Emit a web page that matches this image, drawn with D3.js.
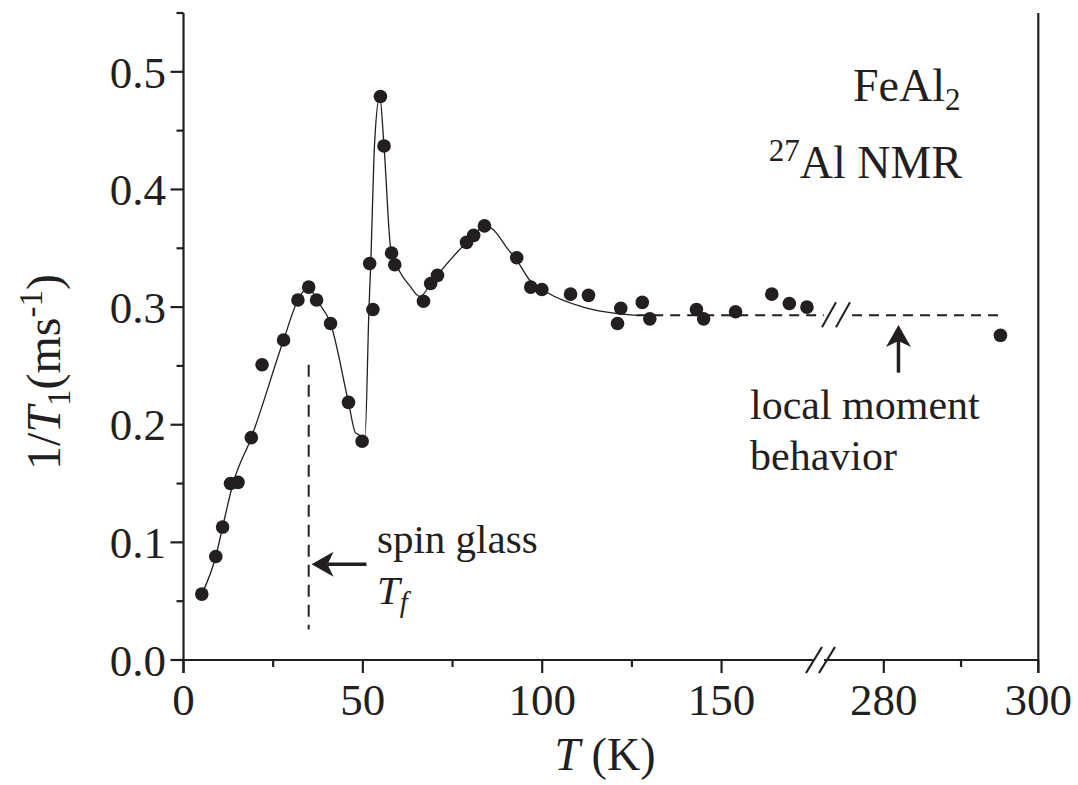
<!DOCTYPE html>
<html>
<head>
<meta charset="utf-8">
<script src="https://cdn.jsdelivr.net/npm/d3@7"></script>
<style>
  html, body { margin: 0; padding: 0; background: #fff; }
  svg { display: block; }
  text { font-family: "Liberation Serif", "Times New Roman", serif; fill: #231f20; }
</style>
</head>
<body>
<svg id="chart" width="1078" height="785"></svg>
<script>
// 27Al NMR spin-lattice relaxation rate of FeAl2
const temperature = [5.1, 9.0, 10.9, 13.1, 15.2, 18.9, 21.9, 27.9, 31.9, 34.9, 37.1, 41.0, 46.0, 49.8,
  51.9, 52.8, 54.9, 55.9, 58.0, 58.9, 66.9, 68.9, 70.8, 78.9, 80.9, 83.9, 92.9, 96.8, 99.9,
  107.9, 112.9, 121.0, 121.9, 127.9, 130.0, 143.0, 145.0, 153.9, 164.0, 168.9, 173.8, 295.1];
const rate = [0.056, 0.088, 0.113, 0.150, 0.151, 0.189, 0.251, 0.272, 0.306, 0.317, 0.306, 0.286, 0.219, 0.186,
  0.337, 0.298, 0.479, 0.437, 0.346, 0.336, 0.305, 0.320, 0.327, 0.355, 0.361, 0.369, 0.342, 0.317, 0.315,
  0.311, 0.310, 0.286, 0.299, 0.304, 0.290, 0.298, 0.290, 0.296, 0.311, 0.303, 0.300, 0.276];

// guide-to-the-eye curve
const guideT = [5.1, 9.0, 10.9, 13.8, 18.9, 27.9, 31.9, 34.9, 37.1, 41.0, 46.0, 48.0, 50.6, 51.7, 52.2,
  53.3, 54.7, 55.9, 57.8, 60.3, 63.1, 65.9, 68.6, 70.8, 76.1, 78.9, 80.9, 83.9, 86.3, 90.0, 92.9,
  96.5, 101.6, 111.4, 126.2];
const guideRate = [0.056, 0.088, 0.113, 0.150, 0.189, 0.272, 0.306, 0.317, 0.306, 0.286, 0.219, 0.193, 0.190, 0.298, 0.337,
  0.441, 0.479, 0.437, 0.349, 0.330, 0.318, 0.309, 0.318, 0.327, 0.346, 0.355, 0.361, 0.369, 0.366, 0.351, 0.340,
  0.323, 0.312, 0.300, 0.293];

// local-moment plateau and spin-glass freezing temperature
const plateauRate = 0.293;
const plateauStart = 126.2, plateauEnd = 295.4;
const freezeT = 34.9;
const freezeSpan = [0.026, 0.251];

// axis ticks (broken temperature axis)
const xMajor = [0, 50, 100, 150, 280, 300];
const xMinor = [25, 75, 125, 290];
const yMajor = [0.0, 0.1, 0.2, 0.3, 0.4, 0.5];
const yMinor = [0.05, 0.15, 0.25, 0.35, 0.45, 0.55];

const ink = "#231f20";
const svg = d3.select("#chart");

// piecewise scale: 0–178 K, then 272–300 K
const x = d3.scaleLinear().domain([0, 178, 272, 300]).range([183.5, 822, 822, 1038.3]);
const y = d3.scaleLinear().domain([0, 0.55]).range([660, 13]);

const axisW = 2.2;
const yBottom = y(0), xLeft = x(0), xRight = x(300);

// frame: left, right, bottom
svg.append("line").attr("x1", xLeft).attr("x2", xLeft).attr("y1", y(0.55)).attr("y2", yBottom + 13)
  .attr("stroke", ink).attr("stroke-width", axisW);
svg.append("line").attr("x1", xRight).attr("x2", xRight).attr("y1", y(0.55)).attr("y2", yBottom + 13)
  .attr("stroke", ink).attr("stroke-width", axisW);
// bottom axis in two pieces around the break
const brk = 822;
svg.append("line").attr("x1", xLeft).attr("x2", brk - 9).attr("y1", yBottom).attr("y2", yBottom)
  .attr("stroke", ink).attr("stroke-width", axisW);
svg.append("line").attr("x1", brk + 2).attr("x2", xRight).attr("y1", yBottom).attr("y2", yBottom)
  .attr("stroke", ink).attr("stroke-width", axisW);
// break slashes on axis
[-8, 5].forEach(dx => {
  svg.append("line").attr("x1", brk + dx - 8).attr("y1", yBottom + 13)
    .attr("x2", brk + dx + 8).attr("y2", yBottom - 13)
    .attr("stroke", ink).attr("stroke-width", axisW);
});

// x ticks
svg.selectAll(".xmaj").data(xMajor).join("line")
  .attr("x1", d => x(d)).attr("x2", d => x(d)).attr("y1", yBottom).attr("y2", yBottom + 13)
  .attr("stroke", ink).attr("stroke-width", axisW);
svg.selectAll(".xmin").data(xMinor).join("line")
  .attr("x1", d => x(d)).attr("x2", d => x(d)).attr("y1", yBottom).attr("y2", yBottom + 7)
  .attr("stroke", ink).attr("stroke-width", axisW);
svg.selectAll(".xlab").data(xMajor).join("text")
  .attr("x", d => x(d)).attr("y", 715).attr("text-anchor", "middle")
  .attr("font-size", 45).text(d => d);

// y ticks
svg.selectAll(".ymaj").data(yMajor).join("line")
  .attr("x1", xLeft - 13).attr("x2", xLeft).attr("y1", d => y(d)).attr("y2", d => y(d))
  .attr("stroke", ink).attr("stroke-width", axisW);
svg.selectAll(".ymin").data(yMinor).join("line")
  .attr("x1", xLeft - 7).attr("x2", xLeft).attr("y1", d => y(d)).attr("y2", d => y(d))
  .attr("stroke", ink).attr("stroke-width", axisW);
svg.selectAll(".ylab").data(yMajor).join("text")
  .attr("x", 166).attr("y", d => y(d)).attr("dy", "0.35em").attr("text-anchor", "end")
  .attr("font-size", 45).text(d => d.toFixed(1));

// axis titles
const xt = svg.append("text").attr("x", 605).attr("y", 770).attr("text-anchor", "middle").attr("font-size", 46);
xt.append("tspan").attr("font-style", "italic").text("T");
xt.append("tspan").text(" (K)");

const yt = svg.append("text").attr("transform", "translate(60,372) rotate(-90)")
  .attr("text-anchor", "middle").attr("font-size", 48);
yt.append("tspan").text("1/");
yt.append("tspan").attr("font-style", "italic").text("T");
yt.append("tspan").attr("font-size", 33).attr("dy", 10).text("1");
yt.append("tspan").attr("dy", -10).text("(ms");
yt.append("tspan").attr("font-size", 33).attr("dy", -18).text("-1");
yt.append("tspan").attr("dy", 18).text(")");

// guide curve
const guide = guideT.map((t, i) => [t, guideRate[i]]);
svg.append("path").datum(guide)
  .attr("d", d3.line().x(d => x(d[0])).y(d => y(d[1])).curve(d3.curveMonotoneX))
  .attr("fill", "none").attr("stroke", ink).attr("stroke-width", 1.3);

// plateau dashed line with break marks
const pBreak = 836;
svg.append("line").attr("x1", x(plateauStart)).attr("x2", pBreak - 12)
  .attr("y1", y(plateauRate)).attr("y2", y(plateauRate))
  .attr("stroke", ink).attr("stroke-width", 2).attr("stroke-dasharray", "10,7");
svg.append("line").attr("x1", pBreak + 16).attr("x2", x(plateauEnd))
  .attr("y1", y(plateauRate)).attr("y2", y(plateauRate))
  .attr("stroke", ink).attr("stroke-width", 2).attr("stroke-dasharray", "10,7");
[-7, 7].forEach(dx => {
  svg.append("line").attr("x1", pBreak + dx - 7).attr("y1", y(plateauRate) + 12)
    .attr("x2", pBreak + dx + 7).attr("y2", y(plateauRate) - 13)
    .attr("stroke", ink).attr("stroke-width", 2);
});

// freezing temperature marker
svg.append("line").attr("x1", x(freezeT)).attr("x2", x(freezeT))
  .attr("y1", y(freezeSpan[1])).attr("y2", y(freezeSpan[0]))
  .attr("stroke", ink).attr("stroke-width", 2).attr("stroke-dasharray", "12,8");

// arrows
function arrow(x1, y1, x2, y2) {
  const ang = Math.atan2(y2 - y1, x2 - x1);
  const L = 22, W = 12.5, notch = 6;
  const ux = Math.cos(ang), uy = Math.sin(ang);
  const px = -uy, py = ux;
  svg.append("line").attr("x1", x1).attr("y1", y1)
    .attr("x2", x2 - ux * (L - notch)).attr("y2", y2 - uy * (L - notch))
    .attr("stroke", ink).attr("stroke-width", 3.5);
  const pts = [
    [x2, y2],
    [x2 - ux * L + px * W, y2 - uy * L + py * W],
    [x2 - ux * (L - notch), y2 - uy * (L - notch)],
    [x2 - ux * L - px * W, y2 - uy * L - py * W]
  ];
  svg.append("path").attr("d", "M" + pts.map(p => p.join(",")).join("L") + "Z").attr("fill", ink);
}
arrow(x(51.0), y(0.0814), x(35.7), y(0.0814));
arrow(x(281.9), y(0.2443), x(281.9), y(0.2848));

// data points
svg.selectAll(".pt").data(temperature).join("circle")
  .attr("cx", d => x(d)).attr("cy", (d, i) => y(rate[i])).attr("r", 6.8).attr("fill", ink);

// annotations
svg.append("text").attr("x", 377).attr("y", 553).attr("font-size", 41).text("spin glass");
const tf = svg.append("text").attr("x", 377).attr("y", 604).attr("font-size", 41);
tf.append("tspan").attr("font-style", "italic").text("T");
tf.append("tspan").attr("font-style", "italic").attr("font-size", 29).attr("dy", 8).text("f");

svg.append("text").attr("x", 750).attr("y", 419).attr("font-size", 42).text("local moment");
svg.append("text").attr("x", 750).attr("y", 470).attr("font-size", 42).text("behavior");

const fe = svg.append("text").attr("x", 853).attr("y", 101).attr("font-size", 46);
fe.append("tspan").text("FeAl");
fe.append("tspan").attr("font-size", 31).attr("dy", 9).text("2");

const nmr = svg.append("text").attr("x", 962).attr("y", 178).attr("text-anchor", "end").attr("font-size", 46);
nmr.append("tspan").attr("font-size", 31).attr("dy", -17).text("27");
nmr.append("tspan").attr("dy", 17).text("Al NMR");
</script>
</body>
</html>
